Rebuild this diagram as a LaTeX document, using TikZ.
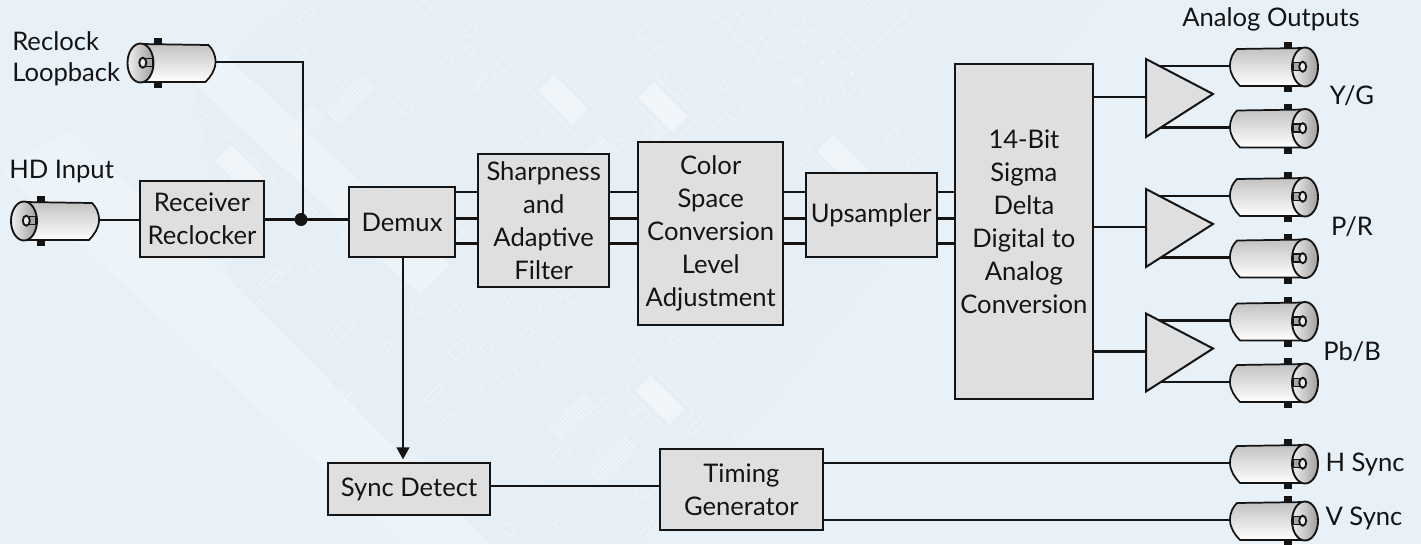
\documentclass[tikz,border=0pt]{standalone}
\usepackage{fontspec}
\setmainfont{Lato}
\usetikzlibrary{arrows.meta,calc}
\definecolor{bgblue}{HTML}{E9F1F8}
\definecolor{bgboard}{HTML}{E7EFF6}
\definecolor{bglight}{HTML}{EDF4F9}
\definecolor{bgpale}{HTML}{F0F5F9}
\definecolor{boxgray}{HTML}{DEDFE0}
\definecolor{ink}{HTML}{141414}
\newcommand{\lblfont}{\fontsize{19.2pt}{24.8pt}\selectfont}
\tikzset{
  x=0.75pt,y=-0.75pt,
  lbl/.style={inner sep=0pt,text=ink,align=center,font=\lblfont},
  block/.style={draw=ink,line width=1.5pt,fill=boxgray,inner sep=0pt,text=ink,align=center,font=\lblfont},
  wire/.style={draw=ink,line width=1.6pt},
  pale/.style={draw=bgpale,line width=0.6pt},
  bnc/.pic={
    \coordinate (-tip) at (0,0);
    \fill[ink] (54,-24) rectangle (62,26);
    \shade[top color=black!24,bottom color=white,draw=ink,line width=1.3pt]
      (0,0) .. controls (0,-8) and (3,-13) .. (7,-17) -- (75,-18) -- (75,20) -- (10,20) .. controls (5,15) and (0,8) .. (0,0) -- cycle;
    \shade[left color=black!6,right color=black!38,draw=ink,line width=1.4pt]
      (75,1) ellipse [x radius=13,y radius=19.5];
    \draw[line width=1pt,draw=ink,fill=black!35] (63,-3.5) rectangle (70,4.5);
    \draw[line width=1.4pt,draw=ink,fill=white!92!black] (72.7,0.7) ellipse [x radius=3.5,y radius=5];
  },
  amp/.pic={
    \coordinate (-in) at (0,0);
    \draw[draw=ink,line width=1.5pt,fill=boxgray,line join=miter] (0,-38) -- (67,-3) -- (0,40) -- cycle;
  },
}
\begin{document}
\begin{tikzpicture}
\useasboundingbox (0,0) rectangle (1421,544);
\fill[bgblue] (0,0) rectangle (1421,544);
% faint circuit-board background
\begin{scope}
\clip (0,0) rectangle (1421,544);
\fill[bglight] (0,170) -- (70,130) -- (230,280) -- (490,544) -- (405,544) -- (97,260) -- cycle;
\fill[bgboard] (300,0) -- (1100,0) -- (720,460) -- (640,544) -- (490,544) -- (230,280) -- (195,85) -- cycle;
\fill[bglight] (195,85) -- (225,55) -- (450,265) -- (420,295) -- cycle;
\clip (300,0) -- (1100,0) -- (720,460) -- (640,544) -- (490,544) -- (230,280) -- (195,85) -- cycle;
\pgfmathsetseed{12}
\foreach \n in {1,...,170} {
  \pgfmathsetmacro\px{190+rnd*720}
  \pgfmathsetmacro\py{rnd*540}
  \pgfmathsetmacro\pw{5+rnd*18}
  \pgfmathsetmacro\ph{4+rnd*8}
  \draw[pale,rotate around={45:(\px,\py)}] (\px,\py) rectangle ++(\pw,\ph);
}
\foreach \cx/\cy in {563/100,663/107,842/160,760/300,240/170,660/400} {
  \fill[bgpale,rotate around={-45:(\cx,\cy)}] (\cx-24,\cy-11) rectangle (\cx+24,\cy+11);
  \draw[pale,rotate around={-45:(\cx,\cy)}] (\cx-32,\cy-16) rectangle (\cx+32,\cy+16);
}
\foreach \cx/\cy in {573/417,613/460,300/130,350/100,590/160} {
  \foreach \k in {-7,...,7} {
    \draw[bgpale,line width=1pt,rotate around={45:(\cx,\cy)}] (\cx+\k*3.4,\cy-9) -- (\cx+\k*3.4,\cy+9);
  }
}
\foreach \k in {0,...,7} {
  \fill[bgpale] (717+\k*6,17+\k*6) circle [radius=1.8];
  \fill[bgpale] (737+\k*6,15+\k*6) circle [radius=1.6];
  \fill[bgpale] (775+\k*9.5,10+\k*10.5) circle [radius=1.6];
  \fill[bgpale] (795+\k*9.5,10+\k*10.5) circle [radius=1.6];
}
\draw[pale] (810,0) -- (865,57) -- (915,0);
\end{scope}

% nodes
\node[block,minimum width=93pt,minimum height=57.5pt] (recv) at (202,219) {Receiver\\Reclocker};
\node[block,minimum width=79.5pt,minimum height=52.5pt] (demux) at (402,222) {Demux};
\node[block,minimum width=98.5pt,minimum height=99.5pt] (sharp) at (543.7,220.4) {Sharpness\\and\\Adaptive\\Filter};
\node[block,minimum width=108.7pt,minimum height=137.5pt] (color) at (710.7,233.4) {Color\\Space\\Conversion\\Level\\Adjustment};
\node[block,minimum width=98pt,minimum height=62.5pt] (upsam) at (871.2,215) {Upsampler};
\node[block,minimum width=103.2pt,minimum height=251pt] (dac) at (1023.9,231.7) {14-Bit\\Sigma\\Delta\\Digital to\\Analog\\Conversion\\[-9.8pt]\mbox{}};
\node[block,minimum width=121.5pt,minimum height=39pt] (sync) at (409,489) {Sync Detect};
\node[block,minimum width=122pt,minimum height=60.8pt] (timing) at (741.3,489.5) {Timing\\Generator};

% connectors
\pic[xscale=-1] (rl) at (215.5,62) {bnc};
\pic[xscale=-1] (hd) at (99,220) {bnc};
\pic (y1) at (1230,66) {bnc};
\pic (y2) at (1230,127.5) {bnc};
\pic (p1) at (1230,196) {bnc};
\pic (p2) at (1230,257.5) {bnc};
\pic (b1) at (1230,320.5) {bnc};
\pic (b2) at (1230,382) {bnc};
\pic (hs) at (1230,463) {bnc};
\pic (vs) at (1230,520) {bnc};

\coordinate (j) at (301,219.5);
\draw[wire] (hd-tip) -- (recv.west |- hd-tip);
\draw[wire] (recv.east |- j) -- (demux.west |- j);
\draw[wire] (rl-tip) -| (303,219);
\fill[ink] (j) circle [radius=6.5];

\foreach \y in {192,218.5,243.5} {
  \draw[wire] (demux.east |- 0,\y) -- (sharp.west |- 0,\y);
  \draw[wire] (sharp.east |- 0,\y) -- (color.west |- 0,\y);
  \draw[wire] (color.east |- 0,\y) -- (upsam.west |- 0,\y);
  \draw[wire] (upsam.east |- 0,\y) -- (dac.west |- 0,\y);
}
\draw[wire,shorten >=2pt,-{Triangle[length=9pt,width=9.5pt]}] ($(demux.south)+(1,0)$) -- ($(demux.south |- sync.north)+(1,0)$);
\draw[wire] (sync.east |- 0,486) -- (timing.west |- 0,486);
\draw[wire] (timing.east |- hs-tip) -- (hs-tip);
\draw[wire] (timing.east |- vs-tip) -- (vs-tip);

% amplifiers
\foreach \w in {y1,y2,p1,p2,b1,b2} {
  \draw[wire] (\w-tip) -- ++(-80,0);
}
\pic (a1) at (1146,97) {amp};
\pic (a2) at (1146,227) {amp};
\pic (a3) at (1146,351.5) {amp};
\draw[wire] (dac.east |- a1-in) -- (a1-in);
\draw[wire] (dac.east |- a2-in) -- (a2-in);
\draw[wire] (dac.east |- a3-in) -- (a3-in);

% labels
\node[lbl,anchor=west] (t1) at (12,41) {Reclock};
\node[lbl,anchor=west] (t2) at (12,74) {Loopback};
\node[lbl,anchor=west] (t3) at (9,172) {HD Input};
\node[lbl] (t4) at (1271,19) {Analog Outputs};
\node[lbl] (t5) at (1352,96) {Y/G};
\node[lbl] (t6) at (1352,227) {P/R};
\node[lbl] (t7) at (1352,352) {Pb/B};
\node[lbl] (t8) at (1365,464) {H Sync};
\node[lbl] (t9) at (1364,518) {V Sync};
\end{tikzpicture}
\end{document}
